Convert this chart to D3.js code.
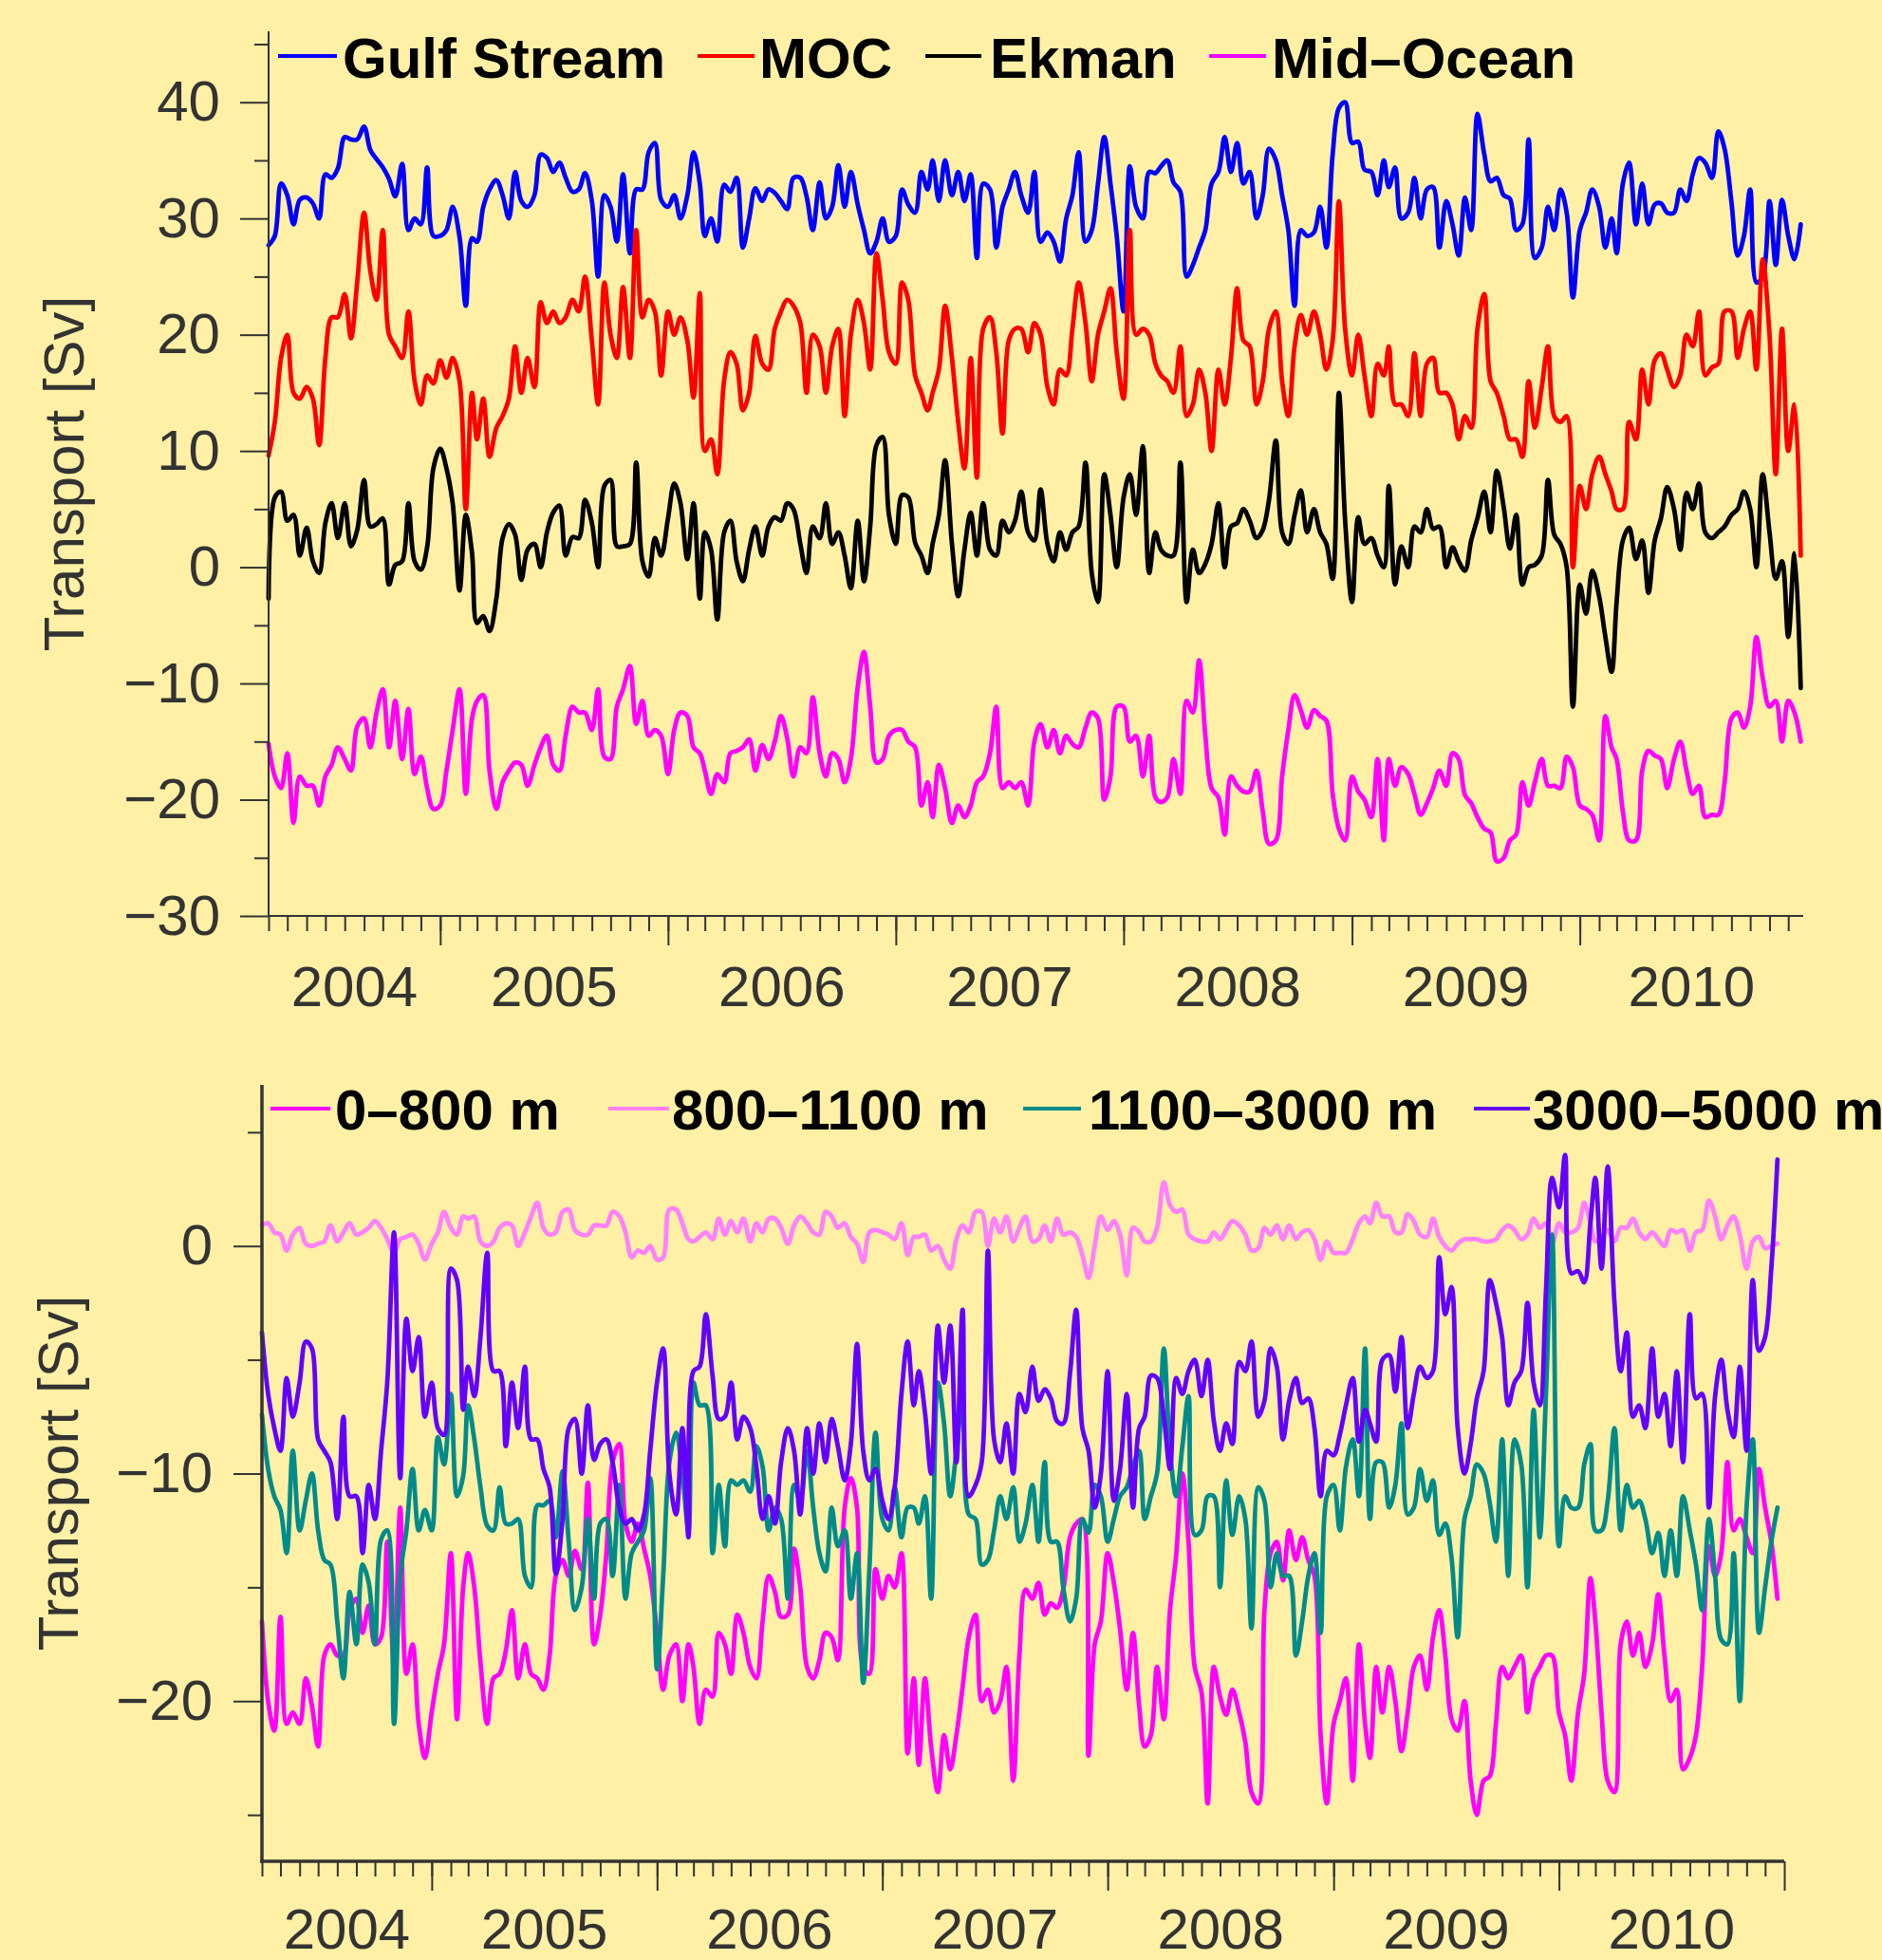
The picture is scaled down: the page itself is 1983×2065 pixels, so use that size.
<!DOCTYPE html>
<html><head><meta charset="utf-8">
<script src="https://cdn.jsdelivr.net/npm/d3@7"></script>
<style>
html,body{margin:0;padding:0;background:#FFF0A5;}
svg{display:block;}
text{font-family:"Liberation Sans", Arial, Helvetica, sans-serif;}
</style></head><body>
<svg id="chart" width="1983" height="2065"></svg>
<script>
// ---------------- DATA ----------------
// samples on the 1st, 11th and 21st of each month, April 2004 – December 2010
const firstYear = 2004, firstMonth = 3;
const sampleDays = [1, 11, 21];
const nSamples = 243;
const yearLabels = ["2004", "2005", "2006", "2007", "2008", "2009", "2010"];

const topNames = ["Gulf Stream", "MOC", "Ekman", "Mid–Ocean"];
const bottomNames = ["0–800 m", "800–1100 m", "1100–3000 m", "3000–5000 m"];

const gulfStream = [27.7,28.5,33,32,29.5,31.6,31.8,31.3,30,33.8,
33.5,34.3,37,36.8,36.8,37.9,35.9,35.1,34.4,33.4,
31.9,34.7,29,30,29.5,34.4,28.5,28.5,29,31,
28.4,22.5,28.3,28,31,32.5,33.3,32,30,34,
31.5,31,32,35.5,35.2,34,34.8,33.5,32.3,32.5,
33.9,31.5,25,32,31,28,33.8,27,32.5,32.5,
35.7,36.5,31.6,31,32,30,32,35.7,33,28.5,
30,28,32.9,32.3,33.5,27.5,30,32.6,31.5,32.5,
32.2,31.5,30.8,33.5,33.5,31.9,29,33.1,30,31,
34.6,31,34,31.2,29,27,28,30,28,28.5,
32.5,31.2,30.5,34,32.5,35,31.5,35,32,34,
31.5,33.8,26.6,33,32.5,27.5,31,32.5,34,32,
30.5,34,28,28.8,28,26.3,30,32,35.7,28,
29,33,37,33,28.5,22,34.5,31,30,34,
33.9,34.5,35,33.1,32.3,25,26,27.5,29,33,
34,37,34,36.5,33,34,30,32,36,35,
32,29,22.5,29,28.5,28.8,31,27.5,35.5,39.5,
40,36.5,36.6,34.2,34,32,35,32.7,34.4,30,
30.5,33.5,30,32.5,32.7,27.5,31.5,29.5,26.8,31.8,
29,39,35.5,33.2,33.5,32,31.7,29,29.5,36.8,
26.6,27.5,31,29,32.5,30.5,23.2,29,30.5,32.5,
31,27.5,30,27,33,34.8,29.5,33,29.5,31.2,
31.3,30.5,30.5,32.5,31.5,33.8,35.2,34.8,33.5,37.5,
36,31.4,26.8,28.5,32.5,24.5,25,31.5,26,31.6,
28.5,26.5,29.5];

const moc = [9.6,12.5,18,20,15,14.5,15.5,14.5,10.5,18,
21.5,21.5,23.5,19.7,24.5,30.5,25.5,23,29,20,
19,18,22,16,14,16.5,15.8,17.8,16.3,18,
16,5,15,11,14.5,9.5,12,13,14.5,19,
15,18,15.5,22.8,21,22,21,21.5,23,22,
25,19.5,14,24.5,20,18,24.1,18,29,21.5,
23,22,16.5,22,20,21.5,19.5,14.6,23.6,10,
11,8,16.1,18.5,17.5,13.5,15,19.9,17.5,17,
20.5,22,23,22.5,21,15,20,19,15,19,
20.5,13,20,23,21,17,27,23,18.5,17.5,
24.5,23,16.5,15,13.5,15,17,22.5,18,12.5,
8.5,18,7.7,20.5,21.5,18.5,11.5,19.5,20.5,20.5,
18.5,21,20,15.5,14,17,16.5,20.5,24.5,21,
16,20,22,24,18.5,14.5,29,20,20.5,20,
17.5,16.5,16,15,19,13,14,17,15,10,
17,14,18,24,19.5,19,14,16,20.5,22,
16,13,19,21.7,20,22,20,17,19.5,31.5,
20.5,16.5,20,16.5,13,17.5,16.5,19,14,14,
13,18.4,13,17.5,18,15,15,14,11,13,
12,20.5,23.5,16,15,13,11,11,9.5,16,
12,15.5,19,13,12.5,13,0,7,5,8,
9.5,8,6.5,5,5,12.5,11,17,14,17.8,
18.4,17,15.5,16.5,20,19,22,16.5,17.2,17.5,
22,22,18,20.5,22,17,26.5,20,8,20.5,
10,14,1];

const ekman = [-2.7,6,6.5,4,4.5,1,3.4,0.5,-0.5,3.8,
5.5,2.5,5.5,1.8,3.2,7.5,3.5,3.7,4.2,-1.5,
0.2,0.5,5.5,0.5,-0.2,1.7,8.5,10.2,8.5,5.5,
-2,4.5,1.2,-4.8,-4.2,-5.5,-2.7,2.5,3.7,2.8,
-1.1,1.5,2,0,3,4.7,5.3,1,2.6,2.5,
5.8,3.8,0,7,7.5,1.8,1.8,2,9,0.5,
-0.8,2.5,1,4.2,7.2,5.5,0.7,5.5,-2.7,3,
1.5,-4.5,3,4,0.5,-1.2,1.5,3.5,1,3.5,
4.3,4,5.5,5,2,-0.5,3.5,2.5,5.5,2,
3,1,-1.8,4,-1.2,3.5,10.5,11.2,4.5,2,
6.2,6,2.1,1,-0.5,2,4.5,9.2,2,-2.5,
1.5,4.7,1,5.5,1.5,1,4,3,4,6.5,
3,2.3,6.7,2,0.5,3,1.5,3,3.5,9,
-0.5,-3,8,4.5,0,6,8,4.5,10.4,-0.5,
3,1.5,1,1,9,-3,1.5,-0.5,0.3,2,
5.5,0,3.5,3.8,5,4,2.5,3.2,5.8,10.9,
3,2,4.5,6.6,3,5,3,2,-1,15,
4,-3,4.3,2,2.5,1,0,7,-1.5,1.8,
0,3.5,3,5,3.3,3.5,0,1.7,0.5,-0.3,
2.3,4.2,6.5,3,8.3,5.2,1.6,4.5,-1.5,0,
0.2,1,7.5,2.8,2,0,-12,-1.5,-4,-0.3,
-2.5,-6,-9,-3,2.3,3.4,0.7,2.3,-2.2,2.3,
4.2,6.9,5,1.5,6.4,5,7.2,3,2.5,3,
3.5,4.5,5,6.5,5,0,8,3,-1,0.5,
-6,1.2,-10.4];

const midOcean = [-15.2,-18,-19,-16,-22,-18,-18.8,-18.8,-20.5,-18,
-17,-15.5,-16.5,-17.5,-13.7,-13,-15.5,-12.5,-10.5,-15.5,
-11.5,-16.5,-12.2,-17.8,-16.3,-19,-20.8,-20.5,-17.5,-14,
-10.5,-19.5,-13,-11.5,-11,-17.5,-20.8,-18.5,-17.5,-16.8,
-17,-18.8,-17,-15.5,-14.5,-17,-17.5,-14.5,-12,-12.5,
-12.5,-14,-10.5,-16.3,-16.5,-12,-10.5,-8.5,-13.5,-11.5,
-14.5,-14,-14.5,-17.8,-14,-12.5,-12.8,-15.5,-16,-17.5,
-19.5,-17.8,-18.5,-16,-15.8,-15.5,-14.8,-17.5,-15.3,-16.5,
-15,-12.8,-14.7,-18,-15.5,-16,-11.2,-16,-18,-16,
-16.5,-18.5,-16.5,-10.3,-7.3,-12,-16.8,-16.5,-14.5,-14,
-14,-15,-15.5,-20.5,-18.5,-21.5,-17,-19,-22,-20.5,
-21.5,-20.5,-18.5,-18,-16,-12,-19,-18.5,-19,-18.5,
-20.5,-15,-13.5,-15.5,-14,-16,-14.5,-15.2,-15.5,-13.8,
-12.5,-13,-20,-18,-12,-12,-15,-14.5,-18,-14.5,
-19.8,-20.2,-19.8,-16.5,-19.5,-11.5,-12.5,-8,-14.5,-19,
-19.8,-23,-18,-18.8,-19.3,-19.3,-17.5,-21,-23.8,-23.5,
-18,-14,-11,-12.3,-13.8,-12.3,-12.8,-13.2,-19.5,-22.5,
-23.5,-18,-19.3,-20,-21.5,-16.5,-23.5,-16.5,-18.8,-17.2,
-17.8,-19.5,-21.3,-20.3,-19,-17.5,-18.8,-16,-16.5,-19.6,
-20.3,-21.5,-22.5,-22.8,-25.3,-25,-23.5,-23,-18.5,-20.5,
-18.5,-16.5,-18.8,-18.8,-19,-16.3,-17.2,-20.5,-20.8,-21.3,
-23.5,-12.8,-15.5,-16.5,-21,-23.5,-23.5,-17.5,-15.8,-16.2,
-16.5,-19,-16.5,-15,-17.5,-19.5,-18.8,-21.5,-21.3,-21.3,
-18.5,-13,-12.5,-13.8,-12,-6,-9.5,-12,-11.5,-15,
-11.5,-12.5,-15];

const layer0to800 = [-16.5,-20,-21.3,-16.3,-21,-20.5,-21,-19,-20.2,-22,
-18,-17.5,-18,-18,-16,-15.5,-17,-15.8,-17.5,-17.2,
-13,-18.5,-11.5,-18.8,-17.5,-21,-22.5,-20.5,-18.8,-17.5,
-13.5,-20.8,-15,-13.5,-15,-18.3,-21,-19,-18.8,-17.8,
-16,-19,-17.5,-18.8,-19,-19.5,-18,-14.5,-13.8,-14.5,
-13.4,-14.2,-10.4,-17.5,-16.2,-13.5,-9.5,-8.7,-12.2,-13,
-12.2,-13.3,-14.5,-17,-19.5,-18,-17.5,-20,-17.5,-18.5,
-21,-19.5,-19.8,-17,-17.5,-18.8,-16.2,-17,-18.5,-19,
-16.5,-14.5,-15.2,-16.3,-16.2,-13.3,-15,-18.5,-19,-18.2,
-17,-17.2,-18.2,-11.5,-10.2,-11.5,-18.5,-18.8,-14.2,-15.5,
-14.5,-15,-13.5,-22.3,-19,-22.8,-19,-22,-24,-21.5,
-23,-21.5,-19.4,-17.2,-16.2,-20,-19.5,-20.5,-20,-18.5,
-23.5,-18,-15.1,-15.5,-14.8,-16.2,-15.7,-15.9,-15.1,-12.8,
-12.2,-12,-22.4,-17.5,-16.5,-13.5,-14.8,-16.8,-19.5,-17,
-20.2,-22,-21.5,-18.5,-20.8,-16,-13.6,-10,-13,-18.5,
-19.6,-24.5,-18.5,-19.8,-20.6,-19.5,-20.5,-21.8,-24,-24.5,
-16,-13.5,-13,-14.7,-12.5,-13.8,-12.8,-13.8,-14.5,-21.5,
-24.5,-21,-20,-19,-23.5,-17.5,-21,-22.5,-18.5,-20.5,
-18.5,-20,-22.2,-20.5,-18.5,-18,-19.5,-17.2,-16,-18,
-20.8,-21.3,-20,-23.5,-25,-23.5,-23.3,-21,-18.5,-19,
-18.5,-18,-20.5,-19,-18.5,-18,-18,-20.5,-21.5,-23.5,
-20.5,-18.8,-14.6,-16.5,-20.5,-23.5,-24,-17.5,-16.5,-18,
-17,-18.5,-17.5,-15.3,-18,-20,-19.5,-23,-22.5,-21.5,
-18.5,-13.2,-14.5,-13.5,-9.5,-12.5,-12,-12.8,-13.5,-9.8,
-11.5,-13,-15.5];

const layer800to1100 = [0.9,1,0.6,0.5,-0.2,0.5,0.8,0.1,0,0.1,
0.2,0.9,0.2,0.6,1,0.5,0.6,0.8,1.1,0.8,
0.3,-0.3,0.3,0.4,0.5,0.1,-0.6,0.1,0.6,1.5,
0.8,0.5,1.3,1.2,1.3,0.2,0,0.2,0.8,1,
0.9,0,0.6,1.3,1.9,0.8,0.5,0.6,1.5,1.6,
0.7,0.5,0.5,0.9,0.9,0.9,1.5,1.3,0.6,-0.5,
-0.2,-0.3,0,-0.6,-0.5,1.6,1.6,1,0.3,0.2,
0.4,0.6,0.3,1.2,0.5,1.1,0.6,1.2,0.2,1,
0.6,1.2,1.2,0.8,0.1,0.9,1.3,1,0.6,0.5,
1.5,1.3,0.8,1,0.4,0.1,-0.7,0.6,0.7,0.6,
0.5,0.3,1,-0.4,0.4,0.4,0.5,-0.2,0,-0.6,
-1,0.3,0.9,0.6,1.5,1.5,0,1.2,0.6,1.3,
0.2,0.8,1.3,0.2,0.3,0.9,0.2,1.2,0.5,0.6,
0.4,-0.4,-1.4,0,1.3,0.7,1.1,0.5,-1.3,0.8,
0.6,0.2,0.2,0.8,2.8,1.8,1.5,1.6,0.5,0.3,
0.2,0.2,0.6,0.3,0.7,1.1,0.9,0.5,-0.2,-0.1,
0.8,0.5,0.9,0.3,0.9,0.3,0.6,0.7,0.3,-0.6,
0.2,-0.3,-0.3,-0.3,0.3,1,1.3,1,1.9,1.3,
1.3,0.6,0.6,1.4,1.1,0.5,0.4,1.2,0.4,0,
-0.2,0.1,0.3,0.3,0.3,0.2,0.2,0.3,0.7,0.9,
0.7,0.3,0.5,1.2,0.8,1,0.1,1,0.6,0.6,
0.8,1.9,1,0.2,0.4,0.7,0.2,0.8,0.8,1.2,
0.6,0.3,0.6,0.3,0,0.7,0.6,0.7,-0.2,0.6,
0.7,2,1.3,0.3,0.9,1.3,0.5,-1,0.2,0.4,
-0.1,0,0.1];

const layer1100to3000 = [-7.4,-9.8,-11,-11.6,-13.5,-9,-12.5,-11.2,-10,-12.5,
-13.8,-14,-16.5,-19,-15.2,-17.5,-14,-14.8,-17.5,-12.9,
-12.5,-21,-14.5,-12.5,-9.8,-12.5,-11.6,-12.5,-8.4,-9.6,
-6.5,-11,-10.1,-7,-8.5,-10.6,-12.3,-12.5,-10.6,-12.2,
-12.2,-12,-14.5,-15,-11.4,-11.4,-11.2,-12.8,-9.9,-13,
-16,-15,-12,-15.5,-12.2,-12,-14.5,-10.5,-15.5,-13.5,
-13,-12.5,-10.2,-18.6,-14.5,-9.5,-8.2,-10,-12.5,-6,
-7,-7,-13.5,-10.5,-13.2,-10.3,-10.5,-10.3,-10.8,-8.8,
-9.7,-12.5,-11.5,-12,-15.5,-10.5,-11.2,-9,-11.5,-13.5,
-14.3,-11.5,-13.2,-12.5,-15.5,-13.5,-19.2,-14.2,-8.2,-12,
-12.5,-10.6,-12.8,-11.5,-11.5,-12.2,-11,-15.5,-6,-7.8,
-11,-9,-6.6,-11.8,-12,-14,-13.8,-12.5,-11,-12,
-10.6,-13,-12.2,-10.5,-13,-9.5,-13,-13,-15,-16.5,
-15.5,-12,-12.6,-10.5,-11,-13,-12,-11,-10.6,-9.7,
-9,-12,-11,-10,-4.5,-9,-11,-8.8,-6.6,-12.7,
-12.5,-11,-11,-15,-10.3,-12.7,-11,-12,-16.8,-10.6,
-11.2,-15,-13.5,-14.5,-14.5,-18,-16.5,-14.5,-13.5,-17,
-11,-10.5,-12.5,-9.7,-8.5,-11,-4.5,-12,-9.5,-9.5,
-11.5,-10.5,-7.8,-11.8,-11.5,-9.8,-11.2,-10.3,-12.7,-12.2,
-13.7,-17.2,-12,-11,-9.6,-10,-11.3,-13,-8.5,-14.5,
-8.5,-9.6,-15,-7.2,-12.8,-6.5,0.5,-13.2,-11,-11.5,
-11.5,-9.6,-8.7,-12.5,-12.5,-11.2,-8,-12.5,-10.5,-11.5,
-11.2,-12,-13.5,-12.6,-14.5,-12.5,-14.5,-11,-12.5,-14,
-16,-12,-14.5,-17.3,-17.5,-13.5,-20,-11.5,-8.5,-17,
-15,-13,-11.5];

const layer3000to5000 = [-3.8,-6.5,-8,-9,-5.8,-7.5,-6,-4.2,-4.5,-8.5,
-9,-9.5,-12,-7.5,-11,-11,-13.5,-10.5,-12,-9,
-6,0.6,-10.2,-3.2,-5.5,-4,-7.5,-6,-8,-8.3,
-1,-1.5,-7.2,-5.3,-6.6,-4,-0.3,-5.5,-5.5,-8.8,
-6,-8,-5.3,-8.5,-8.5,-9.8,-10.6,-14.4,-12,-8,
-7.6,-10,-7,-9.4,-8.7,-8.5,-9.5,-11.5,-12.2,-12,
-12.5,-11.8,-9,-6,-4.5,-10,-11.8,-8,-12.8,-5.5,
-5.3,-3,-5.7,-7.6,-7.5,-6,-8.5,-7.5,-8,-9.7,
-12,-11,-12.2,-9.5,-8,-9,-11.8,-8,-10,-7.8,
-9.5,-7.6,-8.8,-10.3,-8.7,-4.3,-9,-10.3,-9.8,-11.2,
-12,-10.6,-6.5,-4.2,-7,-5.5,-7.3,-10,-3.5,-6,
-3.5,-9.5,-2.8,-11,-10.5,-9.5,-0.2,-8.5,-9.5,-7.8,
-10,-6.5,-7.3,-5.3,-6.8,-6.3,-6.7,-7.7,-7.8,-5.6,
-2.8,-8,-9,-11.5,-10,-5.5,-11.2,-9.8,-6.5,-11.5,
-8,-7.5,-5.7,-5.8,-7.5,-9.8,-5.8,-6.5,-5.5,-5,
-6.6,-5,-7.7,-9,-7.8,-8.7,-5.1,-5.5,-4.2,-7.5,
-6.8,-4.5,-5.3,-8.5,-6.8,-5.8,-6.9,-6.7,-8,-11,
-9,-9.2,-8.3,-7,-5.8,-8.6,-7.2,-7.8,-8.6,-5,
-4.8,-6.4,-4,-8,-6.5,-5.3,-5.8,-5.5,-0.5,-3,
-1.8,-8,-10,-8.7,-6.7,-5.5,-1.5,-2.5,-4,-7,
-6,-5.5,-2.5,-6,-7,-2,3,1.7,4,-1.2,
-1.1,-1.6,1,3,-1,3.5,-2.5,-5.5,-3.8,-7.5,
-7,-8,-4.5,-7.5,-6.5,-8.8,-5.5,-9.5,-3,-6.7,
-6.5,-11.5,-6.6,-5,-7.2,-8.4,-5.3,-9,-1.5,-4.6,
-4,-1,3.8];

const topTicksMajor = [-30, -20, -10, 0, 10, 20, 30, 40];
const topTicksMinor = [-25, -15, -5, 5, 15, 25, 35, 45];
const botTicksMajor = [-20, -10, 0];
const botTicksMinor = [-25, -15, -5, 5];

// ---------------- LAYOUT / STYLE ----------------
const BG = "#FFF0A5", AXIS = "#333333";
const topColors = ["#0000FF", "#FF0000", "#000000", "#FF00FF"];
const botColors = ["#FF00FF", "#FF80FF", "#008B8B", "#6400FF"];
const FONT = 60;
const LINE_W = 4.8;

const sampleDates = d3.range(nSamples).map(i =>
  new Date(firstYear, firstMonth + Math.floor(i / 3), sampleDays[i % 3]));

const svg = d3.select("#chart");
svg.append("rect").attr("width", 1983).attr("height", 2065).attr("fill", BG);

function panel(cfg) {
  const g = svg.append("g");
  const x = d3.scaleTime().domain(cfg.xDomain).range([cfg.left, cfg.right]);
  const y = d3.scaleLinear().domain(cfg.yDomain).range([cfg.bottom, cfg.top]);

  // series
  const line = d3.line().x((d, i) => x(sampleDates[i])).y(d => y(d))
    .curve(d3.curveCatmullRom.alpha(0.5));
  cfg.series.forEach((s, k) => {
    g.append("path").datum(s).attr("d", line)
      .attr("fill", "none").attr("stroke", cfg.colors[k])
      .attr("stroke-width", LINE_W).attr("stroke-linejoin", "round")
      .attr("stroke-linecap", "round");
  });

  // y axis
  const yMajor = g.append("g").attr("transform", `translate(${cfg.left},0)`)
    .call(d3.axisLeft(y).tickValues(cfg.yMajor).tickSize(30).tickPadding(cfg.yPad)
      .tickFormat(v => (v < 0 ? "\u2212" + Math.abs(v) : String(v))));
  const yMinor = g.append("g").attr("transform", `translate(${cfg.left},0)`)
    .call(d3.axisLeft(y).tickValues(cfg.yMinor).tickSize(15).tickFormat(""));
  // x axis
  const months = d3.timeMonth.range(cfg.xDomain[0], cfg.lastMinor);
  const years = d3.timeYear.range(new Date(2005, 0, 1), cfg.lastMajor);
  const xMinor = g.append("g").attr("transform", `translate(0,${cfg.bottom})`)
    .call(d3.axisBottom(x).tickValues(months).tickSize(16).tickFormat(""));
  const xMajor = g.append("g").attr("transform", `translate(0,${cfg.bottom})`)
    .call(d3.axisBottom(x).tickValues(years).tickSize(31).tickFormat(""));

  [yMajor, yMinor, xMinor, xMajor].forEach(a => {
    a.select(".domain").remove();
    a.selectAll(".tick line").attr("stroke", AXIS).attr("stroke-width", 2);
    a.selectAll(".tick text").attr("fill", AXIS).attr("font-size", FONT)
      .attr("font-family", '"Liberation Sans", Arial, sans-serif');
  });

  // axis lines
  g.append("line").attr("x1", cfg.left).attr("x2", cfg.left)
    .attr("y1", cfg.top).attr("y2", cfg.bottom + cfg.axisW / 2)
    .attr("stroke", AXIS).attr("stroke-width", cfg.axisW);
  g.append("line").attr("x1", cfg.left - cfg.axisW / 2).attr("x2", cfg.right)
    .attr("y1", cfg.bottom).attr("y2", cfg.bottom)
    .attr("stroke", AXIS).attr("stroke-width", cfg.axisW);

  // year labels centered on each (visible) year span
  yearLabels.forEach(lbl => {
    const yr = +lbl;
    const a = Math.max(x(new Date(yr, 0, 1)), cfg.left);
    const b = Math.min(x(new Date(yr + 1, 0, 1)), cfg.right);
    g.append("text").attr("x", (a + b) / 2).attr("y", cfg.yearBaseline)
      .attr("text-anchor", "middle").attr("font-size", FONT).attr("fill", AXIS)
      .text(lbl);
  });

  // y title
  g.append("text").attr("transform", `translate(${cfg.titleX},${(cfg.top + cfg.bottom) / 2}) rotate(-90)`)
    .attr("text-anchor", "middle").attr("font-size", FONT).attr("fill", AXIS)
    .text("Transport [Sv]");

  // legend
  cfg.names.forEach((name, k) => {
    const L = cfg.legend[k];
    g.append("line").attr("x1", L[0]).attr("x2", L[1])
      .attr("y1", cfg.legendLineY).attr("y2", cfg.legendLineY)
      .attr("stroke", cfg.colors[k]).attr("stroke-width", 4);
    g.append("text").attr("x", L[2]).attr("y", cfg.legendBaseline)
      .attr("font-size", FONT).attr("font-weight", "bold").attr("fill", "#000")
      .text(name);
  });
}

panel({
  series: [gulfStream, moc, ekman, midOcean], colors: topColors, names: topNames,
  xDomain: [new Date(2004, 3, 1), new Date(2010, 11, 25)],
  lastMinor: new Date(2010, 11, 2), lastMajor: new Date(2010, 0, 2),
  yDomain: [-30, 46.1], yMajor: topTicksMajor, yMinor: topTicksMinor,
  left: 283, right: 1900, top: 33, bottom: 965, axisW: 2, yPad: 21,
  yearBaseline: 1060, titleX: 88,
  legend: [[293, 355, 361], [735, 795, 800], [975, 1034, 1043], [1274, 1334, 1340]],
  legendLineY: 59, legendBaseline: 82
});

panel({
  series: [layer0to800, layer800to1100, layer1100to3000, layer3000to5000],
  colors: botColors, names: bottomNames,
  xDomain: [new Date(2004, 3, 1), new Date(2011, 0, 1)],
  lastMinor: new Date(2010, 11, 2), lastMajor: new Date(2011, 0, 2),
  yDomain: [-27.04, 7.08], yMajor: botTicksMajor, yMinor: botTicksMinor,
  left: 276, right: 1880, top: 1143, bottom: 1961, axisW: 3.5, yPad: 22,
  yearBaseline: 2053, titleX: 82,
  legend: [[285, 348, 353], [641, 705, 708], [1078, 1139, 1147], [1553, 1612, 1615]],
  legendLineY: 1168, legendBaseline: 1190
});
</script>
</body></html>
